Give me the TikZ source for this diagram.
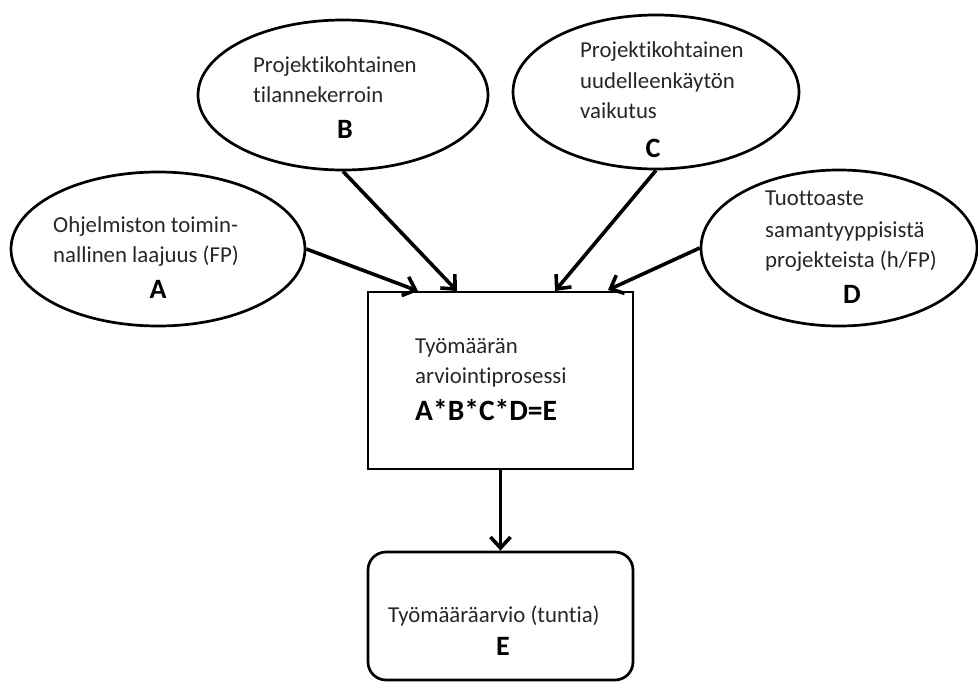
\documentclass[tikz,border=0pt]{standalone}
\usepackage{fontspec}
\setmainfont{Carlito}[Ligatures={NoCommon,NoRequired,NoContextual}]
\usetikzlibrary{shapes.geometric,arrows.meta}
\begin{document}
\begin{tikzpicture}[x=1pt,y=-1pt,
  bubble/.style={draw, ellipse, line width=2.7pt, inner sep=0pt},
  procbox/.style={draw, rectangle, line width=2.7pt, inner sep=0pt},
  txt/.style={anchor=base west, inner sep=0pt, font=\fontsize{22.8}{30}\selectfont, text=black!85},
  letter/.style={anchor=base, inner sep=0pt, font=\fontsize{28}{30}\selectfont\bfseries},
  flow/.style={line width=3.6pt, -{Straight Barb[length=11pt,width=20pt]}}]
\useasboundingbox (0,0) rectangle (978,683);

% input ellipses
\node[bubble, minimum width=294pt, minimum height=154pt] (eA) at (158,249) {};
\node[bubble, minimum width=290pt, minimum height=150pt] (eB) at (343,95) {};
\node[bubble, minimum width=286pt, minimum height=154pt] (eC) at (656,92) {};
\node[bubble, minimum width=276pt, minimum height=156pt] (eD) at (839,248) {};

% estimation process and result
\node[procbox, minimum width=265pt, minimum height=177pt] (proc) at (500.5,380.5) {};
\node[procbox, rounded corners=18pt, minimum width=265pt, minimum height=128pt] (res) at (500.5,616) {};

% labels of A
\node[txt] (tA1) at (53,232) {Ohjelmiston toimin-};
\node[txt] (tA2) at (53,262) {nallinen laajuus (FP)};
\node[letter] (lA) at (158,298) {A};
% labels of B
\node[txt] (tB1) at (253,72) {Projektikohtainen};
\node[txt] (tB2) at (253,102) {tilannekerroin};
\node[letter] (lB) at (345,138) {B};
% labels of C
\node[txt] (tC1) at (580,57) {Projektikohtainen};
\node[txt] (tC2) at (580,88) {uudelleenkäytön};
\node[txt] (tC3) at (580,118) {vaikutus};
\node[letter] (lC) at (653,157) {C};
% labels of D
\node[txt] (tD1) at (765,205) {Tuottoaste};
\node[txt] (tD2) at (765,237) {samantyyppisistä};
\node[txt] (tD3) at (765,267) {projekteista (h/FP)};
\node[letter] (lD) at (852,303) {D};
% process labels
\node[txt] (tP1) at (415,353) {Työmäärän};
\node[txt] (tP2) at (415,383) {arviointiprosessi};
\node[anchor=base west, inner sep=0pt, font=\fontsize{29.5}{32}\selectfont\bfseries] (tP3) at (415,420) {A*B*C*D=E};
% result labels
\node[txt] (tR1) at (388,622) {Työmääräarvio (tuntia)};
\node[letter] (lE) at (503,655) {E};

% entry points on top of the process box
\coordinate (inA) at (418,291);
\coordinate (inB) at (457,291);
\coordinate (inC) at (555,291);
\coordinate (inD) at (608,290);

\draw[flow] (eA.east) -- (inA);
\draw[flow] (eB.south) -- (inB);
\draw[flow] (eC.south) -- (inC);
\draw[flow] (eD.west) -- (inD);
\draw[flow] (proc.south) -- (res.north);
\end{tikzpicture}
\end{document}
